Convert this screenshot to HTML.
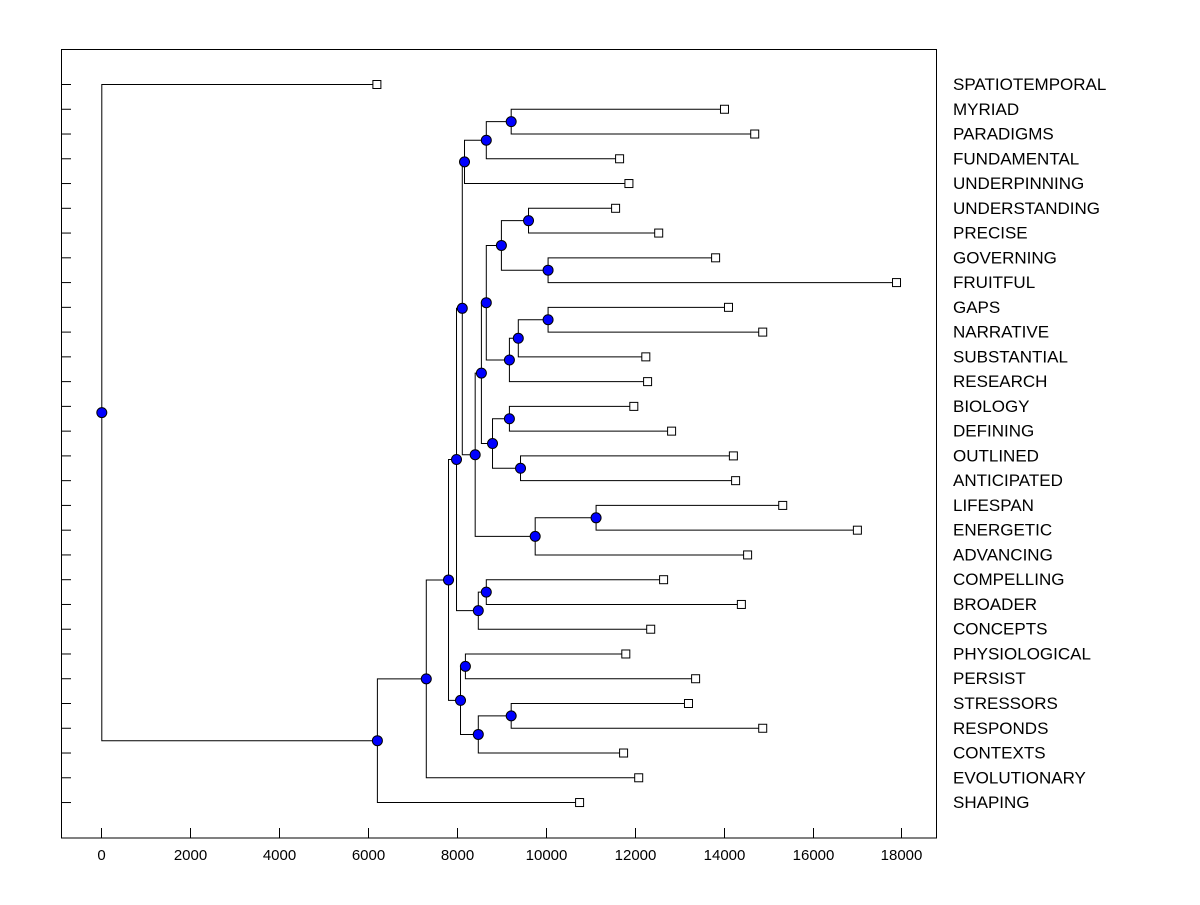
<!DOCTYPE html>
<html><head><meta charset="utf-8"><style>
body{margin:0;background:#fff;}
svg text{font-family:"Liberation Sans",Arial,sans-serif;}
</style></head><body>
<svg id="chart" width="1200" height="900" xmlns="http://www.w3.org/2000/svg"></svg>
<script>
const leaves = ["SPATIOTEMPORAL","MYRIAD","PARADIGMS","FUNDAMENTAL","UNDERPINNING","UNDERSTANDING","PRECISE","GOVERNING","FRUITFUL","GAPS","NARRATIVE","SUBSTANTIAL","RESEARCH","BIOLOGY","DEFINING","OUTLINED","ANTICIPATED","LIFESPAN","ENERGETIC","ADVANCING","COMPELLING","BROADER","CONCEPTS","PHYSIOLOGICAL","PERSIST","STRESSORS","RESPONDS","CONTEXTS","EVOLUTIONARY","SHAPING"];
const leafValues = [6200,14020,14700,11660,11870,11570,12540,13820,17890,14110,14880,12250,12290,11980,12830,14220,14270,15330,17010,14540,12650,14400,12360,11800,13370,13210,14880,11750,12090,10760];
const mergeNames = ["K","J","H","R","S","P","U","T","Q","N","V","W","O","L","X","M","I","F","Y","G","D","Z","BB","AA","E","C","B","A","root"];
const mergeLeft  = ["MYRIAD","K","J","UNDERSTANDING","GOVERNING","R","GAPS","U","T","P","BIOLOGY","OUTLINED","V","N","LIFESPAN","X","L","H","COMPELLING","Y","F","PHYSIOLOGICAL","STRESSORS","BB","Z","D","C","B","SPATIOTEMPORAL"];
const mergeRight = ["PARADIGMS","FUNDAMENTAL","UNDERPINNING","PRECISE","FRUITFUL","S","NARRATIVE","SUBSTANTIAL","RESEARCH","Q","DEFINING","ANTICIPATED","W","O","ENERGETIC","ADVANCING","M","I","BROADER","CONCEPTS","G","PERSIST","RESPONDS","CONTEXTS","AA","E","EVOLUTIONARY","SHAPING","A"];
const mergeHeights = [9210,8650,8160,9600,10040,8990,10040,9370,9170,8650,9170,9420,8790,8540,11120,9750,8400,8110,8650,8470,7980,8180,9210,8470,8070,7800,7300,6200,0];
const xTicks = [0,2000,4000,6000,8000,10000,12000,14000,16000,18000];
</script>
<script>
const NS="http://www.w3.org/2000/svg";
const svg=document.getElementById('chart');
const X0=101.3, K=0.04445, Y0=84, DY=24.76;
const xs=v=>X0+v*K, ys=i=>Y0+i*DY;
function el(t,a,p){const e=document.createElementNS(NS,t);for(const k in a)e.setAttribute(k,a[k]);(p||svg).appendChild(e);return e;}
const frame=el('rect',{x:61.5,y:49.5,width:875,height:788.5,fill:'none',stroke:'#000','stroke-width':1});


const pos={};
leaves.forEach((n,i)=>{pos[n]={x:xs(leafValues[i]),y:ys(i)};});
mergeNames.forEach((n,i)=>{const a=pos[mergeLeft[i]],b=pos[mergeRight[i]];pos[n]={x:xs(mergeHeights[i]),y:(a.y+b.y)/2};});
const lines=el('g',{stroke:'#000','stroke-width':1,fill:'none'});


mergeNames.forEach((n,i)=>{
  const p=pos[n],a=pos[mergeLeft[i]],b=pos[mergeRight[i]];
  const path=el('path',{d:`M${a.x} ${a.y+0.5}H${p.x+0.5}V${b.y+0.5}H${b.x}`},lines);
  
  
});
leaves.forEach((n,i)=>{
  const t=el('line',{x1:61,x2:71,y1:ys(i)+0.5,y2:ys(i)+0.5,stroke:'#000'});
  
  
});
leaves.forEach((n,i)=>{
  const p=pos[n];
  const r=el('rect',{x:p.x-4,y:p.y-3.5,width:8,height:8,fill:'#fff',stroke:'#000'});
  
  
  const t=el('text',{x:953,y:p.y+6,'font-size':17,fill:'#000'});
  t.textContent=n;
  
  
});
mergeNames.forEach(n=>{
  const p=pos[n];
  const c=el('circle',{cx:p.x+0.5,cy:p.y+0.5,r:5,fill:'#0000ff',stroke:'#000'});
  
  
});
xTicks.forEach(v=>{
  const x=Math.round(xs(v))+0.5;
  const t=el('line',{x1:x,x2:x,y1:828,y2:838,stroke:'#000'});
  
  
  const l=el('text',{x:x,y:860,'font-size':15,'text-anchor':'middle',fill:'#000'});
  l.textContent=v;
  
  
});
</script>
</body></html>
